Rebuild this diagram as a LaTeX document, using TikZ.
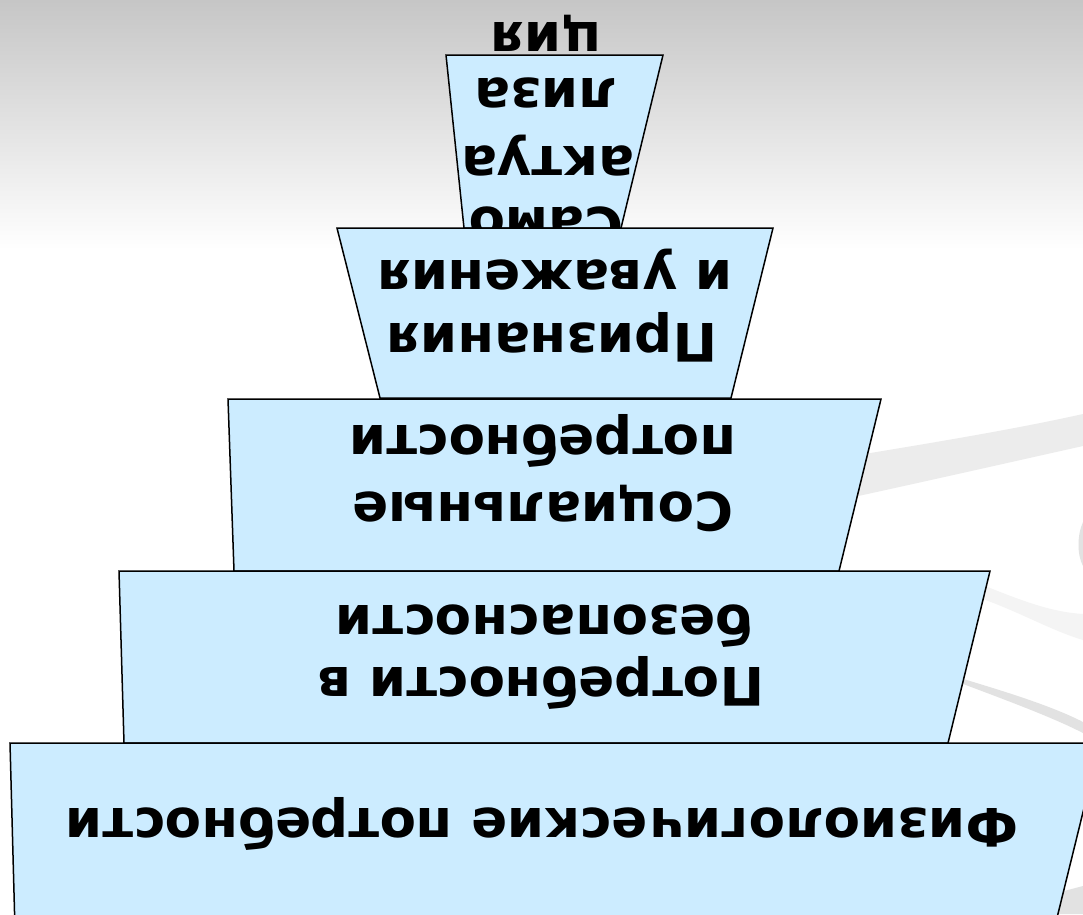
\documentclass[tikz,border=0pt]{standalone}
\usepackage{fontspec}
\setmainfont{DejaVu Sans}
\definecolor{boxfill}{RGB}{204,236,255}
\definecolor{bgtop}{RGB}{198,198,198}
\definecolor{swA}{RGB}{236,236,236}
\definecolor{swB}{RGB}{244,244,244}
\definecolor{swC}{RGB}{226,226,226}
\tikzset{
  level/.style={fill=boxfill, draw=black, line width=1.5pt, line join=miter},
  lbl/.style={rotate=180, anchor=base, inner sep=0pt, font=\fontsize{53}{63}\selectfont\bfseries},
}
\begin{document}
\begin{tikzpicture}[x=1pt,y=-1pt]
\useasboundingbox (0,0) rectangle (1083,914);
\fill[white] (0,0) rectangle (1083,914);
\shade[top color=bgtop, bottom color=white] (0,0) rectangle (1083,250);
% background swooshes
\fill[swA] (840,458) .. controls (950,440) and (1020,428) .. (1083,414) -- (1083,446) .. controls (1020,460) and (950,476) .. (840,500) -- cycle;
\fill[swC] (1083,522) .. controls (1077,535) and (1077,555) .. (1083,566) -- cycle;
\fill[swB] (980,584) .. controls (1020,600) and (1050,612) .. (1083,614) -- (1083,640) .. controls (1050,630) and (1020,612) .. (980,598) -- cycle;
\fill[swC] (950,675) .. controls (1000,690) and (1050,705) .. (1083,722) -- (1083,733) .. controls (1050,716) and (1000,698) .. (950,679) -- cycle;
\fill[swC] (1000,914) .. controls (1030,900) and (1060,892) .. (1083,886) -- (1083,914) -- cycle;
% level 1
\path[level] (446,55) -- (663,55) -- (621,228) -- (464,228) -- cycle;
\node[lbl] (t1a) at (546,22) {ция};
\node[lbl] (t1b) at (546,78) {лиза};
\node[lbl] (t1c) at (548,146) {актуа};
\node[lbl] (t1d) at (546,207) {Само};
% level 2
\path[level] (337,228) -- (773,228) -- (731,398) -- (380,398) -- cycle;
\node[lbl] (t2a) at (552,323) {Признания};
\node[lbl] (t2b) at (555,260) {и уважения};
% level 3
\path[level] (228,399) -- (881,399) -- (839,571) -- (234,571) -- cycle;
\node[lbl] (t3a) at (543,492) {Социальные};
\node[lbl] (t3b) at (543,425) {потребности};
% level 4
\path[level] (119,571) -- (990,571) -- (948,743) -- (124,743) -- cycle;
\node[lbl] (t4a) at (541,667) {Потребности в};
\node[lbl] (t4b) at (544,605) {безопасности};
% level 5
\path[level] (10,743) -- (1100,743) -- (1054,930) -- (15,930) -- cycle;
\node[lbl] (t5a) at (542,808) {Физиологические потребности};
\end{tikzpicture}
\end{document}
